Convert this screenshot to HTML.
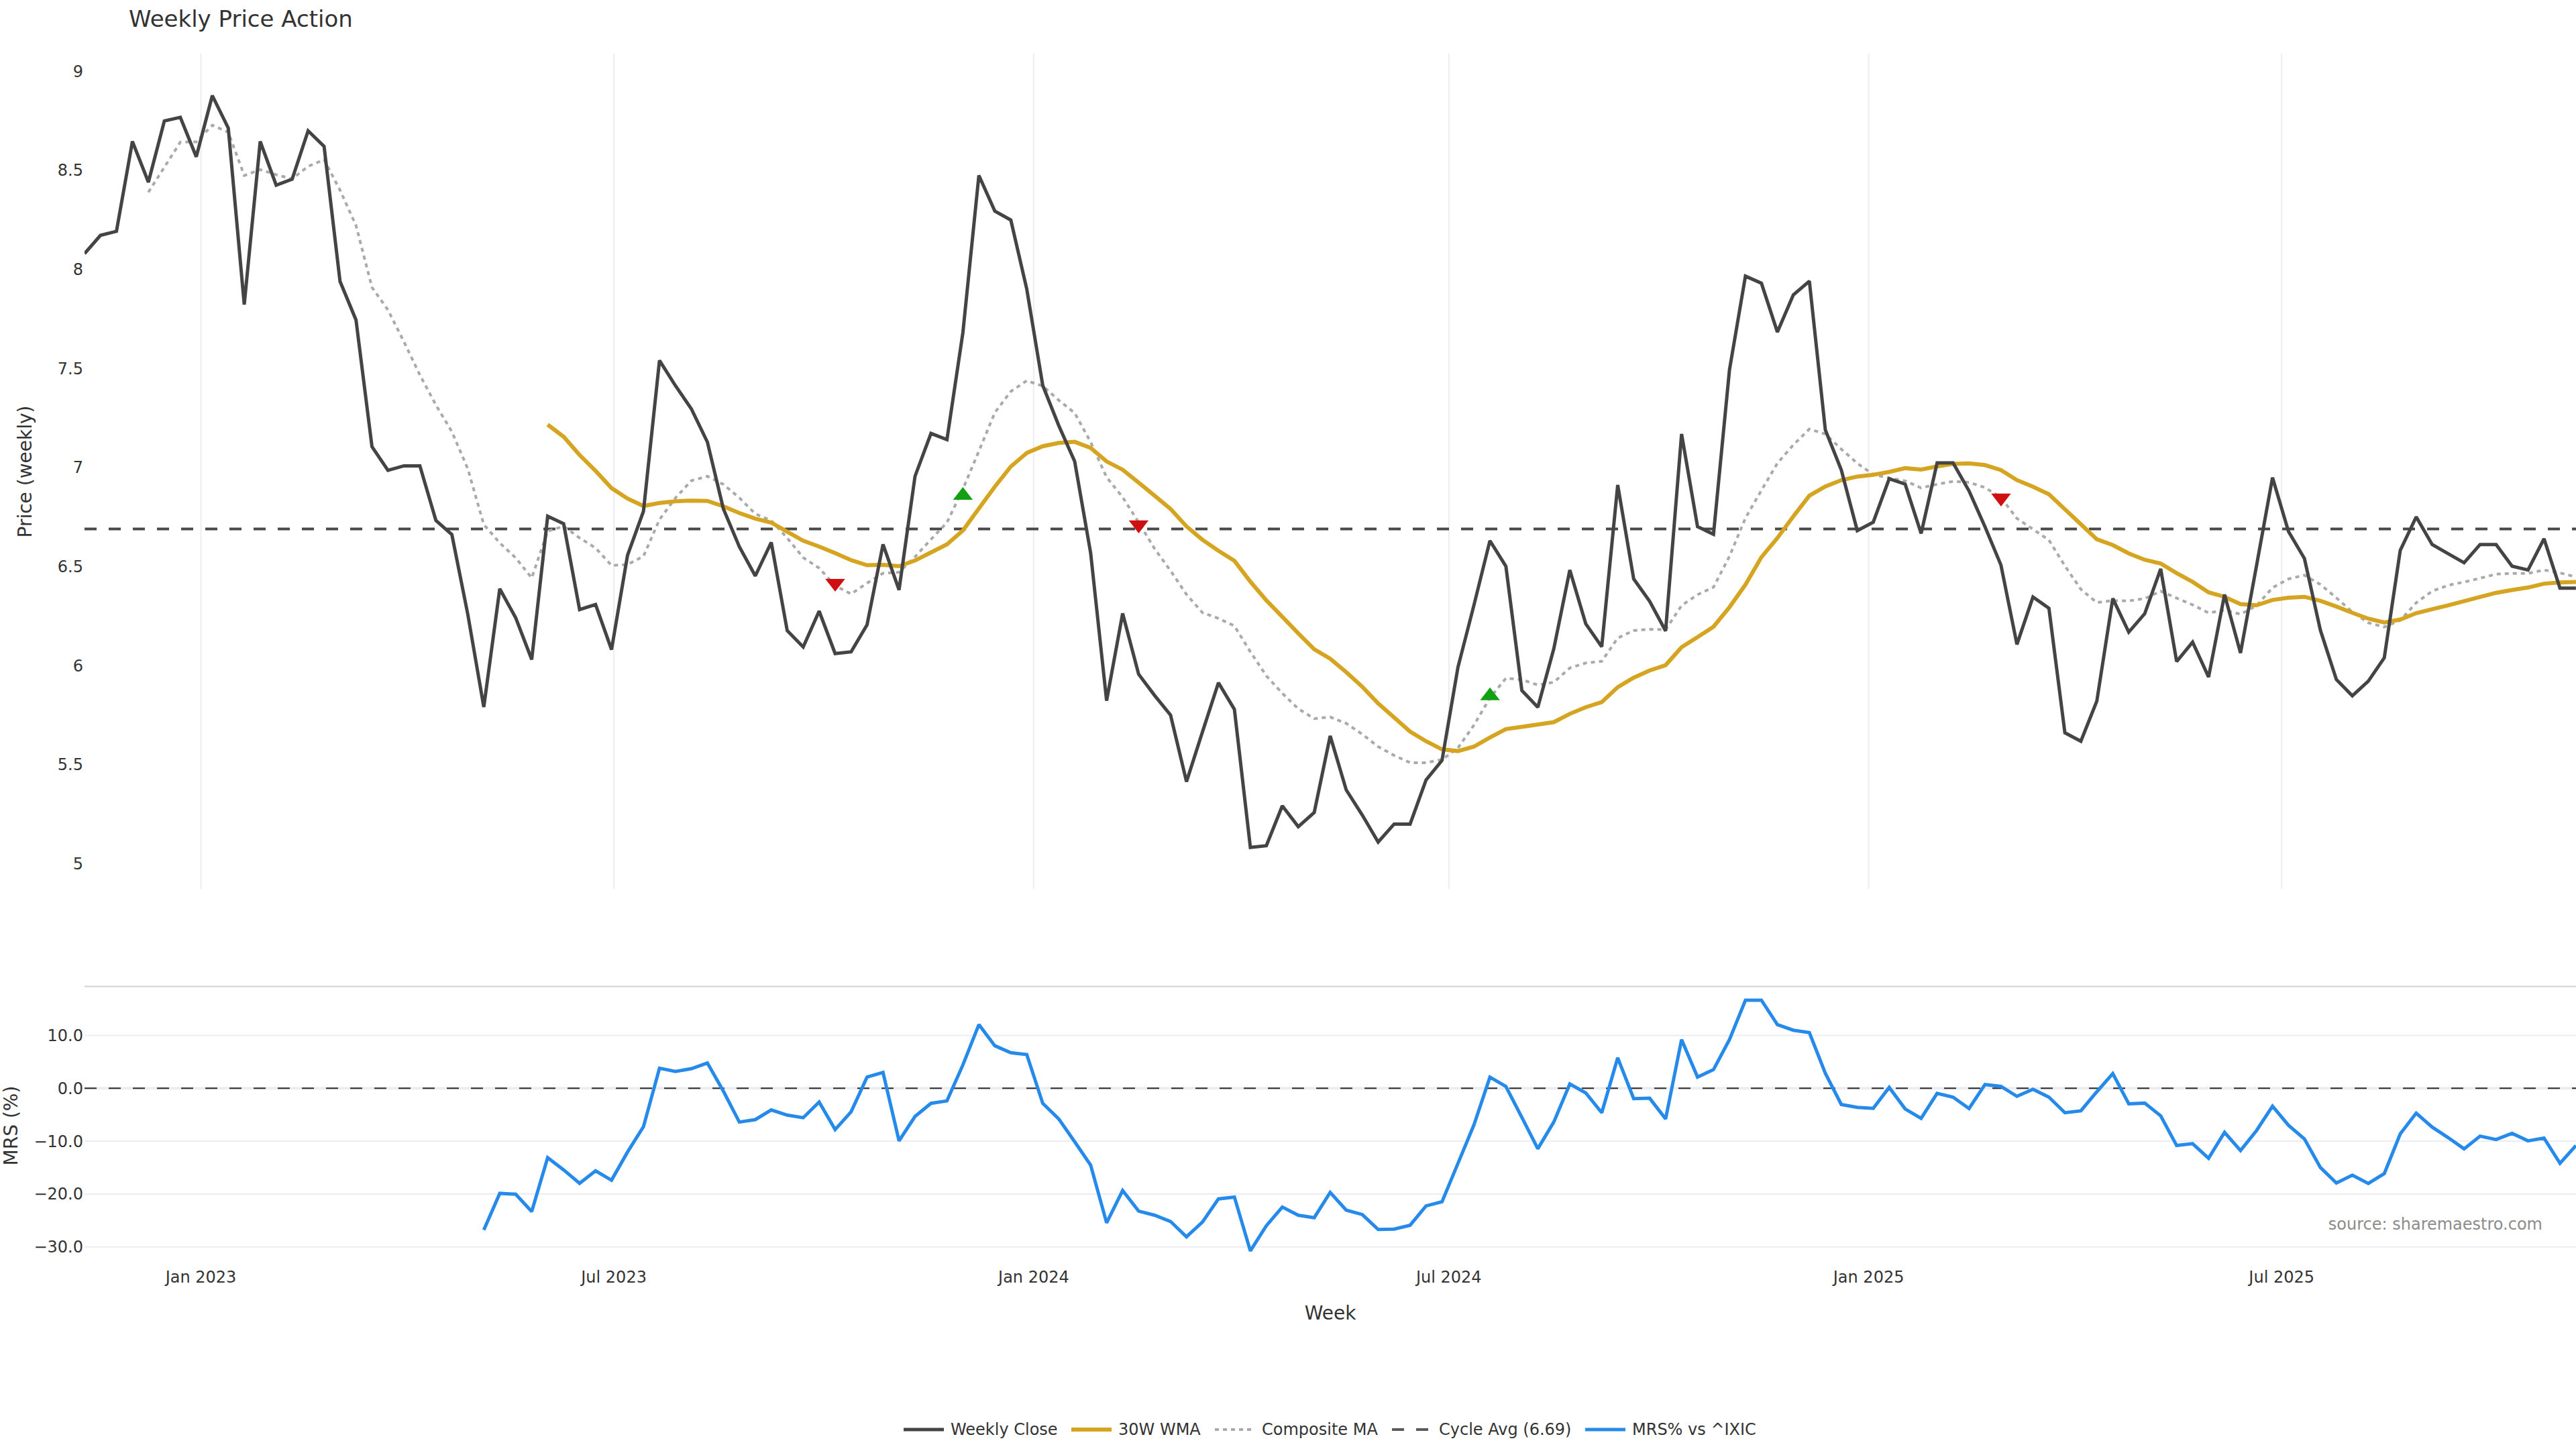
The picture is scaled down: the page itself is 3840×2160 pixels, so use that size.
<!DOCTYPE html>
<html><head><meta charset="utf-8"><title>Weekly Price Action</title>
<style>html,body{margin:0;padding:0;background:#fff;overflow:hidden;}svg{display:block;}text{font-family:"DejaVu Sans","Liberation Sans",sans-serif;}</style>
</head><body>
<svg xmlns="http://www.w3.org/2000/svg" width="3840" height="2160" viewBox="0 0 3840 2160">
<rect x="0" y="0" width="3840" height="2160" fill="#ffffff"/>
<g stroke="#ECECF3" stroke-width="2">
<line x1="299.5" y1="80" x2="299.5" y2="1325"/>
<line x1="915.1" y1="80" x2="915.1" y2="1325"/>
<line x1="1540.9" y1="80" x2="1540.9" y2="1325"/>
<line x1="2159.8" y1="80" x2="2159.8" y2="1325"/>
<line x1="2785.6" y1="80" x2="2785.6" y2="1325"/>
<line x1="3401.2" y1="80" x2="3401.2" y2="1325"/>
</g>
<g stroke="#ECECF3" stroke-width="2">
<line x1="126" y1="1543.5" x2="3840" y2="1543.5"/>
<line x1="126" y1="1701.1" x2="3840" y2="1701.1"/>
<line x1="126" y1="1779.9" x2="3840" y2="1779.9"/>
<line x1="126" y1="1858.7" x2="3840" y2="1858.7"/>
</g>
<line x1="126" y1="1622.3" x2="3840" y2="1622.3" stroke="#ECECF3" stroke-width="4"/>
<line x1="126" y1="1470.5" x2="3840" y2="1470.5" stroke="#D2D2D2" stroke-width="2"/>
<defs><clipPath id="cp1"><rect x="126" y="80" width="3714" height="1245"/></clipPath><clipPath id="cp2"><rect x="126" y="1470" width="3714" height="416"/></clipPath></defs>
<line x1="126" y1="788.4" x2="3840" y2="788.4" stroke="#484848" stroke-width="4" stroke-dasharray="18,18"/>
<g clip-path="url(#cp1)" fill="none" stroke-linejoin="miter" stroke-miterlimit="2">
<polyline points="221.2,286.5 245.0,249.2 268.8,211.9 292.6,211.4 316.5,186.6 340.3,197.0 364.1,261.6 387.9,252.9 411.7,260.4 435.5,266.6 459.3,248.0 483.1,238.0 506.9,283.5 530.7,336.1 554.5,428.3 578.3,462.0 602.1,509.3 625.9,559.0 649.8,603.7 673.6,643.5 697.4,699.0 721.2,782.0 745.0,809.3 768.8,831.7 792.6,861.5 816.4,791.9 840.2,784.5 864.0,801.9 887.8,816.8 911.6,842.9 935.4,841.6 959.2,829.2 983.1,774.5 1006.9,742.3 1030.7,716.5 1054.5,710.0 1078.3,722.0 1102.1,742.0 1125.9,766.0 1149.7,776.0 1173.5,802.0 1197.3,831.2 1221.1,846.8 1244.9,873.0 1268.7,885.5 1292.5,869.3 1316.3,854.5 1340.2,853.0 1364.0,830.0 1387.8,804.0 1411.6,779.0 1435.4,729.0 1459.2,672.5 1483.0,615.0 1506.8,583.5 1530.6,567.5 1554.4,575.5 1578.2,596.5 1602.0,615.6 1625.8,659.0 1649.6,711.4 1673.5,741.2 1697.3,778.5 1721.1,818.0 1744.9,850.8 1768.7,886.2 1792.5,913.2 1816.3,921.9 1840.1,933.0 1863.9,971.6 1887.7,1007.5 1911.5,1033.5 1935.3,1056.5 1959.1,1071.2 1982.9,1068.9 2006.8,1078.3 2030.6,1094.4 2054.4,1113.0 2078.2,1126.1 2102.0,1136.9 2125.8,1136.9 2149.6,1132.3 2173.4,1114.9 2197.2,1080.8 2221.0,1040.5 2244.8,1011.0 2268.6,1013.2 2292.4,1021.1 2316.2,1016.9 2340.1,995.8 2363.9,988.3 2387.7,985.8 2411.5,951.1 2435.3,939.9 2459.1,938.1 2482.9,938.6 2506.7,902.6 2530.5,886.5 2554.3,875.3 2578.1,829.3 2601.9,772.2 2625.7,731.0 2649.5,690.6 2673.3,663.2 2697.2,639.6 2721.0,647.1 2744.8,669.4 2768.6,690.6 2792.4,707.4 2816.2,712.4 2840.0,716.8 2863.8,727.3 2887.6,721.9 2911.4,717.6 2935.2,718.9 2959.0,726.8 2982.8,741.7 3006.6,772.8 3030.5,788.9 3054.3,805.1 3078.1,843.6 3101.9,878.4 3125.7,898.3 3149.5,895.3 3173.3,895.8 3197.1,892.2 3220.9,881.3 3244.7,891.6 3268.5,901.6 3292.3,913.6 3316.1,909.6 3339.9,915.6 3363.8,902.8 3387.6,876.1 3411.4,863.0 3435.2,857.4 3459.0,871.3 3482.8,891.2 3506.6,912.3 3530.4,928.4 3554.2,934.7 3578.0,924.7 3601.8,898.6 3625.6,881.2 3649.4,872.5 3673.2,867.6 3697.0,861.9 3720.9,855.9 3744.7,854.7 3768.5,854.7 3792.3,849.7 3816.1,853.9 3839.9,860.1" stroke="#AAAAAA" stroke-width="4" stroke-dasharray="6,6"/>
<polyline points="816.4,633.0 840.2,651.0 864.0,678.3 887.8,701.9 911.6,727.6 935.4,743.2 959.2,754.3 983.1,749.7 1006.9,747.2 1030.7,746.3 1054.5,746.7 1078.3,754.7 1102.1,764.8 1125.9,773.1 1149.7,779.0 1173.5,792.7 1197.3,806.1 1221.1,814.7 1244.9,824.6 1268.7,835.0 1292.5,842.5 1316.3,842.0 1340.2,844.0 1364.0,835.6 1387.8,823.5 1411.6,811.4 1435.4,790.8 1459.2,757.9 1483.0,725.5 1506.8,695.5 1530.6,675.2 1554.4,665.2 1578.2,660.2 1602.0,658.6 1625.8,667.6 1649.6,687.8 1673.5,700.2 1697.3,719.4 1721.1,738.8 1744.9,758.6 1768.7,784.7 1792.5,804.6 1816.3,821.0 1840.1,835.9 1863.9,867.0 1887.7,894.9 1911.5,919.4 1935.3,944.2 1959.1,967.8 1982.9,982.0 2006.8,1002.0 2030.6,1023.6 2054.4,1048.5 2078.2,1069.5 2102.0,1090.6 2125.8,1105.0 2149.6,1117.1 2173.4,1119.6 2197.2,1113.0 2221.0,1099.4 2244.8,1086.9 2268.6,1083.5 2292.4,1080.0 2316.2,1076.5 2340.1,1064.1 2363.9,1054.2 2387.7,1046.7 2411.5,1024.3 2435.3,1010.2 2459.1,999.5 2482.9,991.6 2506.7,964.7 2530.5,949.8 2554.3,934.2 2578.1,905.1 2601.9,871.6 2625.7,830.6 2649.5,802.0 2673.3,769.7 2697.2,738.9 2721.0,725.1 2744.8,715.8 2768.6,710.4 2792.4,707.8 2816.2,703.5 2840.0,697.9 2863.8,700.0 2887.6,695.3 2911.4,691.6 2935.2,690.8 2959.0,693.3 2982.8,700.7 3006.6,715.7 3030.5,725.6 3054.3,736.8 3078.1,759.1 3101.9,781.5 3125.7,803.9 3149.5,812.5 3173.3,825.0 3197.1,834.5 3220.9,840.0 3244.7,854.3 3268.5,867.4 3292.3,883.0 3316.1,889.7 3339.9,900.6 3363.8,902.3 3387.6,894.4 3411.4,891.0 3435.2,889.7 3459.0,895.7 3482.8,904.1 3506.6,913.5 3530.4,922.2 3554.2,928.0 3578.0,923.5 3601.8,914.0 3625.6,908.1 3649.4,902.4 3673.2,896.1 3697.0,889.9 3720.9,883.7 3744.7,879.5 3768.5,875.8 3792.3,870.1 3816.1,868.3 3839.9,867.6" stroke="#D5A420" stroke-width="6"/>
<polyline points="126.0,378.0 149.8,350.8 173.6,344.8 197.4,210.8 221.2,271.5 245.0,180.3 268.8,174.8 292.6,233.7 316.5,142.5 340.3,191.0 364.1,454.0 387.9,210.8 411.7,276.0 435.5,267.1 459.3,195.0 483.1,218.1 506.9,419.5 530.7,477.0 554.5,665.8 578.3,701.1 602.1,694.4 625.9,694.4 649.8,775.8 673.6,796.9 697.4,916.1 721.2,1054.0 745.0,877.7 768.8,921.1 792.6,983.2 816.4,769.6 840.2,780.7 864.0,908.7 887.8,901.2 911.6,968.3 935.4,828.0 959.2,762.1 983.1,537.3 1006.9,575.0 1030.7,609.7 1054.5,659.0 1078.3,758.4 1102.1,815.0 1125.9,858.5 1149.7,808.5 1173.5,940.1 1197.3,964.4 1221.1,911.0 1244.9,974.2 1268.7,971.7 1292.5,931.4 1316.3,811.5 1340.2,879.3 1364.0,710.0 1387.8,646.1 1411.6,655.3 1435.4,495.6 1459.2,261.5 1483.0,314.8 1506.8,328.0 1530.6,431.0 1554.4,574.5 1578.2,634.2 1602.0,687.7 1625.8,824.3 1649.6,1044.5 1673.5,914.5 1697.3,1005.0 1721.1,1036.6 1744.9,1065.8 1768.7,1165.2 1792.5,1091.0 1816.3,1017.8 1840.1,1057.4 1863.9,1263.2 1887.7,1260.7 1911.5,1201.2 1935.3,1232.3 1959.1,1211.1 1982.9,1097.0 2006.8,1177.5 2030.6,1214.8 2054.4,1255.2 2078.2,1228.4 2102.0,1228.4 2125.8,1162.7 2149.6,1133.5 2173.4,994.4 2197.2,902.0 2221.0,806.0 2244.8,844.2 2268.6,1029.3 2292.4,1054.3 2316.2,967.2 2340.1,849.8 2363.9,929.9 2387.7,964.1 2411.5,723.0 2435.3,862.9 2459.1,896.4 2482.9,940.5 2506.7,647.0 2530.5,785.1 2554.3,796.4 2578.1,551.4 2601.9,411.6 2625.7,422.2 2649.5,494.9 2673.3,439.6 2697.2,419.1 2721.0,640.9 2744.8,700.5 2768.6,791.0 2792.4,778.4 2816.2,713.7 2840.0,721.7 2863.8,795.3 2887.6,690.0 2911.4,690.0 2935.2,731.8 2959.0,785.2 2982.8,842.4 3006.6,960.6 3030.5,889.9 3054.3,906.7 3078.1,1092.3 3101.9,1104.9 3125.7,1045.1 3149.5,892.1 3173.3,942.3 3197.1,914.8 3220.9,848.0 3244.7,986.2 3268.5,957.1 3292.3,1009.3 3316.1,886.3 3339.9,973.4 3363.8,843.0 3387.6,712.0 3411.4,792.2 3435.2,832.6 3459.0,939.6 3482.8,1012.9 3506.6,1037.2 3530.4,1015.4 3554.2,980.6 3578.0,820.4 3601.8,770.5 3625.6,811.7 3649.4,825.3 3673.2,838.9 3697.0,811.7 3720.9,811.7 3744.7,844.0 3768.5,849.7 3792.3,803.1 3816.1,876.8 3839.9,876.8" stroke="#444444" stroke-width="5"/>
</g>
<path d="M1230.28,862.92H1259.72L1245.00,882.05Z" fill="#D01010"/>
<path d="M1420.68,745.08H1450.12L1435.40,725.95Z" fill="#12A012"/>
<path d="M1682.68,775.83H1712.12L1697.40,794.95Z" fill="#D01010"/>
<path d="M2206.38,1043.78H2235.82L2221.10,1024.65Z" fill="#12A012"/>
<path d="M2968.18,735.83H2997.62L2982.90,754.95Z" fill="#D01010"/>
<line x1="126" y1="1622.3" x2="3840" y2="1622.3" stroke="#2A2A2A" stroke-width="2" stroke-dasharray="18,18"/>
<g clip-path="url(#cp2)" fill="none" stroke-miterlimit="2">
<polyline points="721.2,1833.4 745.0,1778.9 768.8,1780.2 792.6,1806.0 816.4,1725.7 840.2,1743.9 864.0,1764.0 887.8,1745.3 911.6,1759.3 935.4,1717.4 959.2,1679.6 983.1,1592.4 1006.9,1597.2 1030.7,1593.0 1054.5,1584.6 1078.3,1626.5 1102.1,1672.6 1125.9,1669.0 1149.7,1654.5 1173.5,1662.3 1197.3,1666.2 1221.1,1642.7 1244.9,1683.8 1268.7,1657.3 1292.5,1605.6 1316.3,1598.6 1340.2,1700.6 1364.0,1664.3 1387.8,1644.7 1411.6,1641.1 1435.4,1587.4 1459.2,1527.3 1483.0,1558.9 1506.8,1569.2 1530.6,1572.0 1554.4,1644.7 1578.2,1667.9 1602.0,1702.0 1625.8,1736.9 1649.6,1822.8 1673.5,1774.6 1697.3,1805.4 1721.1,1811.5 1744.9,1820.8 1768.7,1843.7 1792.5,1821.6 1816.3,1787.2 1840.1,1784.4 1863.9,1864.7 1887.7,1827.2 1911.5,1799.3 1935.3,1811.5 1959.1,1815.2 1982.9,1777.5 2006.8,1804.0 2030.6,1810.4 2054.4,1832.8 2078.2,1832.2 2102.0,1826.4 2125.8,1797.6 2149.6,1791.4 2173.4,1734.1 2197.2,1676.8 2221.0,1605.6 2244.8,1619.5 2268.6,1665.7 2292.4,1712.4 2316.2,1672.6 2340.1,1615.9 2363.9,1629.3 2387.7,1658.7 2411.5,1576.8 2435.3,1637.7 2459.1,1637.1 2482.9,1667.9 2506.7,1549.7 2530.5,1605.6 2554.3,1594.4 2578.1,1549.7 2601.9,1491.0 2625.7,1491.0 2649.5,1527.3 2673.3,1535.7 2697.2,1539.3 2721.0,1600.0 2744.8,1646.4 2768.6,1650.7 2792.4,1652.2 2816.2,1620.9 2840.0,1653.1 2863.8,1667.1 2887.6,1629.9 2911.4,1635.5 2935.2,1652.5 2959.0,1616.7 2982.8,1619.5 3006.6,1634.3 3030.5,1623.7 3054.3,1635.5 3078.1,1658.7 3101.9,1655.9 3125.7,1627.5 3149.5,1600.4 3173.3,1645.5 3197.1,1644.4 3220.9,1663.4 3244.7,1707.6 3268.5,1704.8 3292.3,1726.5 3316.1,1688.0 3339.9,1715.1 3363.8,1685.2 3387.6,1648.9 3411.4,1677.4 3435.2,1697.8 3459.0,1740.4 3482.8,1763.5 3506.6,1751.7 3530.4,1764.1 3554.2,1749.5 3578.0,1690.2 3601.8,1659.3 3625.6,1680.2 3649.4,1695.8 3673.2,1712.6 3697.0,1693.6 3720.9,1698.6 3744.7,1689.4 3768.5,1700.6 3792.3,1696.4 3816.1,1734.1 3839.9,1707.6" stroke="#268AEA" stroke-width="5"/>
</g>
<text x="192" y="40" font-size="34" fill="#333333">Weekly Price Action</text>
<g font-size="24" fill="#333333" text-anchor="end">
<text x="124" y="114.7">9</text>
<text x="124" y="262.3">8.5</text>
<text x="124" y="410.0">8</text>
<text x="124" y="557.6">7.5</text>
<text x="124" y="705.3">7</text>
<text x="124" y="852.9">6.5</text>
<text x="124" y="1000.6">6</text>
<text x="124" y="1148.2">5.5</text>
<text x="124" y="1295.9">5</text>
<text x="124" y="1551.9">10.0</text>
<text x="124" y="1630.7">0.0</text>
<text x="124" y="1709.5">−10.0</text>
<text x="124" y="1788.3">−20.0</text>
<text x="124" y="1867.1">−30.0</text>
</g>
<g font-size="24" fill="#333333" text-anchor="middle">
<text x="299.5" y="1912">Jan 2023</text>
<text x="915.1" y="1912">Jul 2023</text>
<text x="1540.9" y="1912">Jan 2024</text>
<text x="2159.8" y="1912">Jul 2024</text>
<text x="2785.6" y="1912">Jan 2025</text>
<text x="3401.2" y="1912">Jul 2025</text>
</g>
<text x="1983" y="1967" font-size="28" fill="#333333" text-anchor="middle">Week</text>
<text transform="translate(47,703) rotate(-90)" x="0" y="0" font-size="28" fill="#333333" text-anchor="middle">Price (weekly)</text>
<text transform="translate(26,1678) rotate(-90)" x="0" y="0" font-size="28" fill="#333333" text-anchor="middle">MRS (%)</text>
<text x="3790" y="1833" font-size="24" fill="#8C8C8C" text-anchor="end">source: sharemaestro.com</text>
<g fill="none">
<line x1="1347" y1="2131" x2="1407" y2="2131" stroke="#444444" stroke-width="5"/>
<line x1="1597" y1="2131" x2="1657" y2="2131" stroke="#D5A420" stroke-width="6"/>
<line x1="1811" y1="2131" x2="1871" y2="2131" stroke="#AAAAAA" stroke-width="4" stroke-dasharray="6,6"/>
<line x1="2075" y1="2131" x2="2135" y2="2131" stroke="#5A5A5A" stroke-width="4" stroke-dasharray="18,18"/>
<line x1="2363" y1="2131" x2="2423" y2="2131" stroke="#268AEA" stroke-width="5"/>
</g>
<g font-size="24" fill="#333333">
<text x="1417" y="2139.4">Weekly Close</text>
<text x="1667" y="2139.4">30W WMA</text>
<text x="1881" y="2139.4">Composite MA</text>
<text x="2145" y="2139.4">Cycle Avg (6.69)</text>
<text x="2433" y="2139.4">MRS% vs ^IXIC</text>
</g>
</svg>
</body></html>
